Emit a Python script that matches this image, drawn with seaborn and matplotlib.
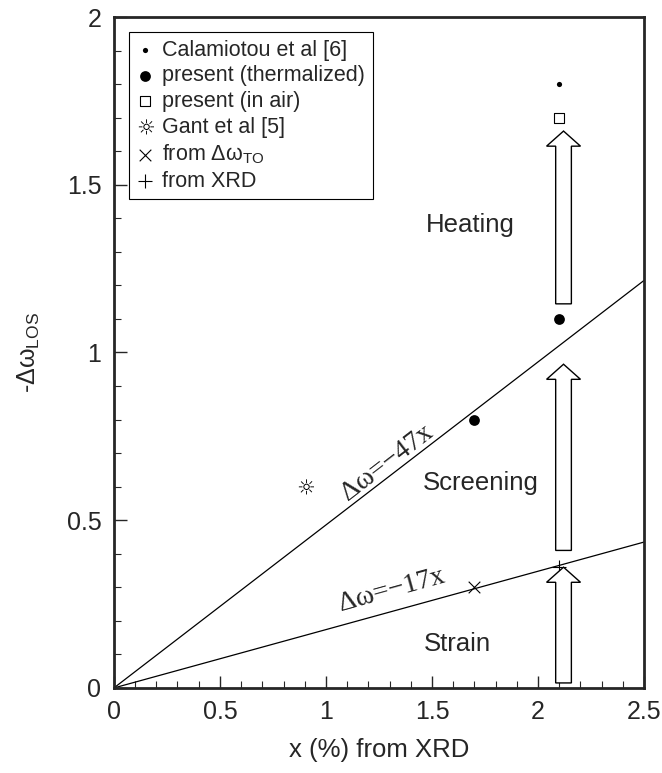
import numpy as np
import pandas as pd
import matplotlib
matplotlib.use("Agg")
import matplotlib.pyplot as plt
import seaborn as sns
from matplotlib.textpath import TextPath
from matplotlib.font_manager import FontProperties
from matplotlib.ticker import MultipleLocator

# Data
calam_x = [2.1]
calam_y = [1.8]
therm_x = [1.7, 2.1]
therm_y = [0.8, 1.1]
air_x = [2.1]
air_y = [1.7]
gant_x = [0.9]
gant_y = [0.6]
to_x = [1.7]
to_y = [0.3]
xrd_x = [2.1]
xrd_y = [0.36]

# fitted lines  -dw = slope * x
line_x = [0.0, 2.5]
slope_47 = 0.486
slope_17 = 0.174

# hollow arrows (x, y start, y end) and their labels
arrow_x = 2.12
arrow_y0 = [0.015, 0.41, 1.145]
arrow_y1 = [0.36, 0.965, 1.66]
region_labels = ["Strain", "Screening", "Heating"]
region_lx = [1.62, 1.73, 1.68]
region_ly = [0.13, 0.61, 1.38]

sns.set_style("ticks")
plt.rcParams["font.family"] = ["Liberation Sans", "DejaVu Sans"]
plt.rcParams["mathtext.default"] = "regular"

fig = plt.figure(figsize=(6.62, 7.73), dpi=100)
ax = fig.add_axes([0.172, 0.110, 0.801, 0.868])

# lines
df47 = pd.DataFrame({"x": line_x, "y": [slope_47 * v for v in line_x]})
df17 = pd.DataFrame({"x": line_x, "y": [slope_17 * v for v in line_x]})
sns.lineplot(data=df47, x="x", y="y", color="black", linewidth=0.9, ax=ax)
sns.lineplot(data=df17, x="x", y="y", color="black", linewidth=0.9, ax=ax)

# sun marker from the DejaVu glyph
sun = TextPath((0, 0), "\u263c", prop=FontProperties(family="DejaVu Sans"))
verts = sun.vertices - sun.vertices.mean(axis=0)
sun = matplotlib.path.Path(verts, sun.codes)

sns.scatterplot(x=calam_x, y=calam_y, marker="o", s=14, color="black",
                linewidth=0, label="Calamiotou et al [6]", ax=ax)
sns.scatterplot(x=therm_x, y=therm_y, marker="o", s=60, color="black",
                linewidth=0, label="present (thermalized)", ax=ax)
sns.scatterplot(x=air_x, y=air_y, marker="s", s=55, facecolor="white",
                edgecolor="black", linewidth=0.8, label="present (in air)", ax=ax)
sns.scatterplot(x=gant_x, y=gant_y, marker=sun, s=150, color="black",
                linewidth=0, label="Gant et al [5]", ax=ax)
sns.scatterplot(x=to_x, y=to_y, marker="x", s=70, color="black",
                linewidth=0.8, label=r"from $\Delta\omega_{TO}$", ax=ax)
sns.scatterplot(x=xrd_x, y=xrd_y, marker="+", s=110, color="black",
                linewidth=0.8, label="from XRD", ax=ax)

# arrows
for y0, y1 in zip(arrow_y0, arrow_y1):
    ax.arrow(arrow_x, y0, 0, y1 - y0, width=0.074, head_width=0.16,
             head_length=0.045, length_includes_head=True,
             facecolor="white", edgecolor="black", linewidth=1.0, zorder=3)

for lab, lx, ly in zip(region_labels, region_lx, region_ly):
    ax.text(lx, ly, lab, fontsize=18.5, ha="center", va="center")

ax.text(1.29, 0.67, "\u0394\u03c9=\u221247x", family="Liberation Serif",
        fontsize=20, rotation=37.5, ha="center", va="center")
ax.text(1.31, 0.29, "\u0394\u03c9=\u221217x", family="Liberation Serif",
        fontsize=20, rotation=15.5, ha="center", va="center")

ax.set_xlim(0, 2.5)
ax.set_ylim(0, 2)
ax.xaxis.set_minor_locator(MultipleLocator(0.1))
ax.yaxis.set_minor_locator(MultipleLocator(0.1))
ax.set_xticks([0, 0.5, 1, 1.5, 2, 2.5])
ax.set_xticklabels(["0", "0.5", "1", "1.5", "2", "2.5"])
ax.set_yticks([0, 0.5, 1, 1.5, 2])
ax.set_yticklabels(["0", "0.5", "1", "1.5", "2"])
ax.tick_params(which="major", direction="in", length=9, width=1.0,
               labelsize=18, pad=9, top=False, right=False)
ax.tick_params(which="minor", direction="in", length=5, width=0.8,
               top=False, right=False)
for sp in ax.spines.values():
    sp.set_linewidth(2.0)
    sp.set_visible(True)

ax.set_xlabel("x (%) from XRD", fontsize=18.5, labelpad=10)
ax.set_ylabel(r"-$\Delta\omega_{LOS}$", fontsize=18, labelpad=18)

leg = ax.legend(loc="upper left", fontsize=15.5, frameon=True, fancybox=False,
                edgecolor="black", framealpha=1, labelspacing=0.22,
                handlelength=0.8, handletextpad=0.4, borderpad=0.35,
                borderaxespad=0.7)
leg.get_frame().set_linewidth(0.8)

fig.savefig("out.png", dpi=100)
